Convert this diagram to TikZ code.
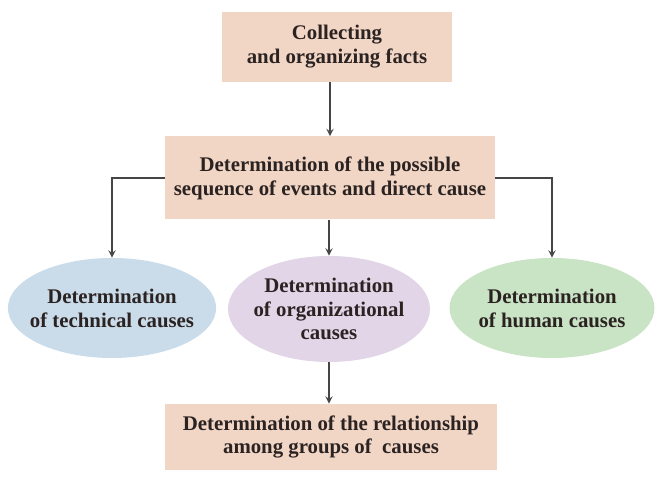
\documentclass[tikz,border=0pt]{standalone}
\usepackage{fontspec}
\setmainfont{Liberation Serif}
\usepackage{tikz}
\usetikzlibrary{arrows,calc,positioning,shapes.geometric}

\definecolor{peach}{HTML}{F2D6C5}
\definecolor{techblue}{HTML}{CADCEA}
\definecolor{orglilac}{HTML}{E1D5E7}
\definecolor{humgreen}{HTML}{C9E3C5}
\definecolor{inkbrown}{HTML}{2B2222}
\definecolor{arrgray}{HTML}{454545}

\begin{document}
\begin{tikzpicture}[
  every node/.style={font=\fontsize{14.8}{17}\selectfont\bfseries, text=inkbrown},
  box/.style={rectangle, inner sep=0pt, align=center, fill=#1},
  oval/.style={ellipse, inner xsep=-6pt, inner ysep=-4pt, align=center, fill=#1},
  arr/.style={->, >=stealth, line width=1.3pt, draw=arrgray},
]
\useasboundingbox (0,0) rectangle (16.45,12.05);

%% ── Facts and sequence ──────────────────────────────────────────────────
\node[box=peach, minimum width=5.75cm, minimum height=1.75cm]  (CF) at (8.425, 10.875)
    {Collecting\\and organizing facts};
\node[box=peach, minimum width=8.25cm, minimum height=2.075cm] (SQ) at (8.25, 7.6)
    {Determination of the possible\\sequence of events and direct cause};

\draw[arr] (CF.south -| SQ.north) -- (SQ.north);

%% ── Groups of causes ────────────────────────────────────────────────────
\node[oval=techblue, minimum width=5.075cm, minimum height=2.5cm] (TC) at (2.8, 4.35)
    {Determination\\of technical causes};
\node[oval=orglilac, minimum width=5.05cm, minimum height=2.65cm] (OC) at (8.225, 4.325)
    {Determination\\of organizational\\causes};
\node[oval=humgreen, minimum width=5.125cm, minimum height=2.5cm] (HC) at (13.8, 4.35)
    {Determination\\of human causes};

\draw[arr] (SQ.west) -| (TC.north);
\draw[arr] (SQ.south -| OC.north) -- (OC.north);
\draw[arr] (SQ.east) -| (HC.north);

%% ── Relationship ────────────────────────────────────────────────────────
\node[box=peach, minimum width=8.3cm, minimum height=1.65cm] (RG) at (8.275, 1.125)
    {Determination of the relationship\\among groups of\ \ causes};

\draw[arr] (OC.south) -- (OC.south |- RG.north);
\end{tikzpicture}
\end{document}
